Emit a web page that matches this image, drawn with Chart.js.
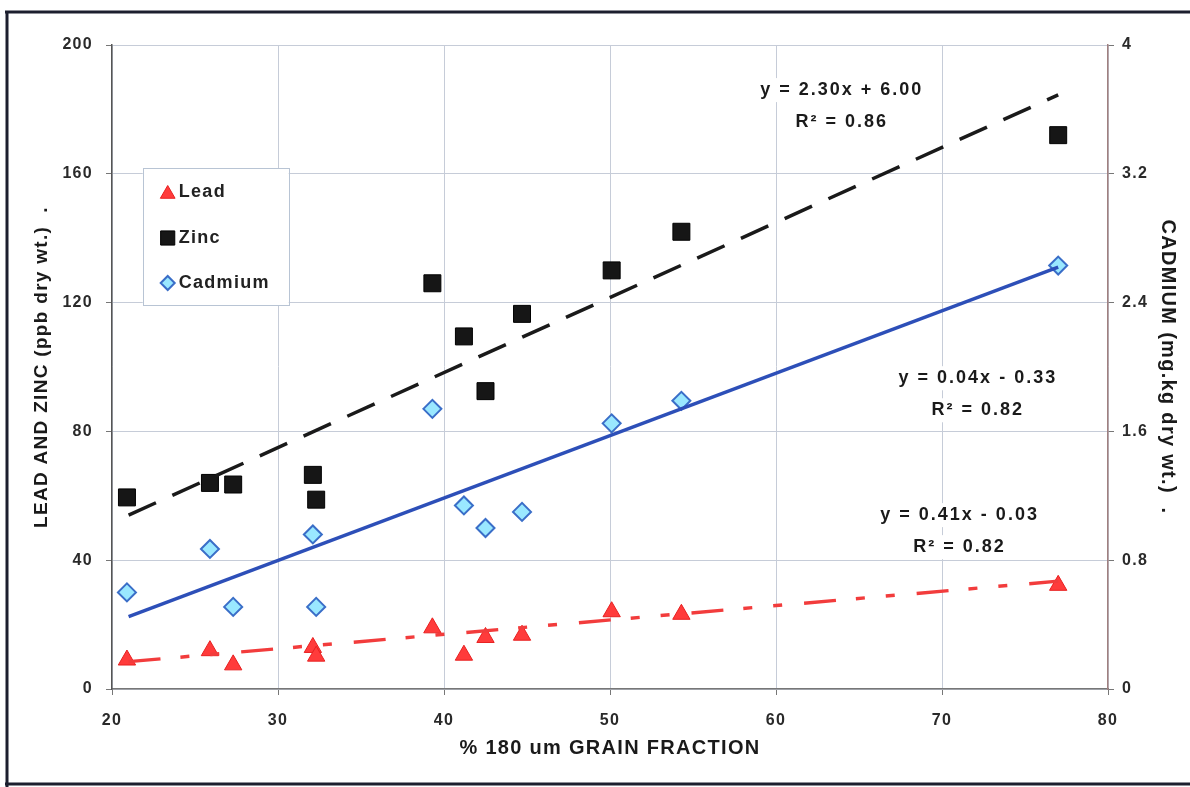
<!DOCTYPE html>
<html><head><meta charset="utf-8">
<script src="https://cdn.jsdelivr.net/npm/chart.js@4.4.1/dist/chart.umd.min.js"></script>
<style>html,body{margin:0;padding:0;background:#fff}#wrap{width:1190px;height:787px;position:relative}</style>
</head><body><div id="wrap"><canvas id="c" width="1190" height="787"></canvas></div>
<script>
const fraction = [20.9, 25.9, 27.3, 32.1, 32.3, 39.3, 41.2, 42.5, 44.7, 50.1, 54.3, 77.0];
const lead     = [9.0, 11.9, 7.5, 12.9, 10.2, 19.0, 10.5, 16.0, 16.7, 24.0, 23.2, 32.2];
const zinc     = [59.5, 64, 63.5, 66.5, 58.8, 126, 109.5, 92.5, 116.5, 130, 142, 172];
const cadmium  = [0.60, 0.87, 0.51, 0.96, 0.51, 1.74, 1.14, 1.00, 1.10, 1.65, 1.79, 2.63];
const trendX     = [21, 77];
const leadTrend  = [8.5, 33.5];
const zincTrend  = [54, 184.5];
const cdTrend    = [0.45, 2.62];
const seriesNames = ['Lead', 'Zinc', 'Cadmium'];
const xTicks = [20, 30, 40, 50, 60, 70, 80];
const leftTicks = [0, 40, 80, 120, 160, 200];
const rightTicks = ['0', '0.8', '1.6', '2.4', '3.2', '4'];
const equations = [
  {x: 63.9, y: 186, lines: ['y = 2.30x + 6.00', 'R\u00b2 = 0.86']},
  {x: 72.1, y: 96.5, lines: ['y = 0.04x - 0.33', 'R\u00b2 = 0.82']},
  {x: 71.0, y: 54, lines: ['y = 0.41x - 0.03', 'R\u00b2 = 0.82']}
];

const pts = (xs, ys) => xs.map((x, i) => ({x: x, y: ys[i]}));
const FONT = 'Arial, "Liberation Sans", sans-serif';
const tickFont = {family: FONT, size: 16, weight: 'bold'};

const framePlugin = {
  id: 'frame',
  beforeDraw(chart) {
    const ctx = chart.ctx;
    ctx.save();
    ctx.fillStyle = '#fff';
    ctx.fillRect(0, 0, chart.width, chart.height);
    ctx.strokeStyle = '#1c1f2e';
    ctx.lineWidth = 3;
    ctx.beginPath();
    ctx.moveTo(5, 12); ctx.lineTo(1190, 12);
    ctx.moveTo(7, 11); ctx.lineTo(7, 787);
    ctx.moveTo(5, 784); ctx.lineTo(1190, 784);
    ctx.stroke();
    ctx.restore();
    ctx.letterSpacing = '1.3px';
  },
  afterDatasetsDraw(chart) {
    const ctx = chart.ctx;
    const xs = chart.scales.x, ys = chart.scales.y;
    ctx.save();
    // equations
    ctx.letterSpacing = '2px';
    ctx.font = 'bold 18px ' + FONT;
    ctx.textAlign = 'center';
    ctx.textBaseline = 'middle';
    equations.forEach(e => {
      const px = xs.getPixelForValue(e.x), py = ys.getPixelForValue(e.y);
      e.lines.forEach((t, i) => {
        const w = ctx.measureText(t).width;
        const yy = py + i * 32;
        ctx.fillStyle = '#fff';
        ctx.fillRect(px - w / 2 - 4, yy - 12, w + 8, 24);
        ctx.fillStyle = '#1a1a1a';
        ctx.fillText(t, px + 1, yy);
      });
    });
    // legend
    const lx = xs.getPixelForValue(21.85), ly = ys.getPixelForValue(161.8);
    const lw = 146, lh = 137;
    ctx.fillStyle = '#fff';
    ctx.fillRect(lx, ly, lw, lh);
    ctx.strokeStyle = '#b8c4d4';
    ctx.lineWidth = 1;
    ctx.strokeRect(Math.round(lx) + 0.5, Math.round(ly) + 0.5, lw, lh);
    ctx.textAlign = 'left';
    ctx.letterSpacing = '1.3px';
    ctx.font = 'bold 18px ' + FONT;
    const rowY = [24, 70, 115];
    const legR = {triangle: 8.5, rect: 10, rectRot: 7};
    chart.data.datasets.slice(0, 3).forEach((ds, i) => {
      const cy = ly + rowY[i];
      ctx.fillStyle = ds.backgroundColor;
      ctx.strokeStyle = ds.borderColor;
      ctx.lineWidth = ds.borderWidth;
      Chart.helpers.drawPoint(ctx, {pointStyle: ds.pointStyle, radius: legR[ds.pointStyle], rotation: 0, borderWidth: ds.borderWidth},
        lx + 25, cy + (ds.pointStyle === 'triangle' ? 2 : 0));
      ctx.fillStyle = '#222';
      ctx.fillText(ds.label, lx + 36, cy);
    });
    ctx.restore();
  }
};

new Chart(document.getElementById('c'), {
  type: 'scatter',
  data: {
    datasets: [
      {label: seriesNames[0], data: pts(fraction, lead), pointStyle: 'triangle', pointRadius: 10,
       backgroundColor: '#ff3b3b', borderColor: '#e82020', borderWidth: 1, yAxisID: 'y', order: 1},
      {label: seriesNames[1], data: pts(fraction, zinc), pointStyle: 'rect', pointRadius: 12,
       backgroundColor: '#161616', borderColor: '#000', borderWidth: 1, yAxisID: 'y', order: 1},
      {label: seriesNames[2], data: pts(fraction, cadmium), pointStyle: 'rectRot', pointRadius: 9,
       backgroundColor: '#9ae8ff', borderColor: '#3a6ec8', borderWidth: 2, yAxisID: 'y1', order: 1},
      {label: 'Lead trend', data: pts(trendX, leadTrend), showLine: true, pointRadius: 0,
       borderColor: '#f23c3c', borderWidth: 3.5, borderDash: [32, 20, 9, 21, 9, 22], yAxisID: 'y', order: 0},
      {label: 'Zinc trend', data: pts(trendX, zincTrend), showLine: true, pointRadius: 0,
       borderColor: '#1a1a1a', borderWidth: 3.5, borderDash: [30, 18], yAxisID: 'y', order: 0},
      {label: 'Cadmium trend', data: pts(trendX, cdTrend), showLine: true, pointRadius: 0,
       borderColor: '#2d4fb8', borderWidth: 3.5, yAxisID: 'y1', order: 0}
    ]
  },
  options: {
    responsive: false,
    animation: false,
    layout: {padding: {top: 45, left: 0, right: 0, bottom: 0}},
    plugins: {legend: {display: false}, tooltip: {enabled: false}},
    scales: {
      x: {
        type: 'linear', min: 20, max: 80,
        afterBuildTicks: s => { s.ticks = xTicks.map(v => ({value: v})); },
        afterFit: s => { s.height = 98; },
        grid: {color: '#c6ccd8', lineWidth: 1, tickLength: 6, tickColor: '#777'},
        border: {color: '#777', width: 1.5},
        ticks: {font: tickFont, color: '#2a2a2a', padding: 16, maxRotation: 0},
        title: {display: true, text: '% 180 um GRAIN FRACTION', font: {family: FONT, size: 20, weight: 'bold'},
                color: '#1a1a1a', padding: {top: 0, bottom: 27}}
      },
      y: {
        type: 'linear', position: 'left', min: 0, max: 200,
        afterBuildTicks: s => { s.ticks = leftTicks.map(v => ({value: v})); },
        afterFit: s => { s.width = 112; },
        grid: {color: '#c6ccd8', lineWidth: 1, tickLength: 6, tickColor: '#777'},
        border: {color: '#555', width: 1.5},
        ticks: {font: tickFont, color: '#2a2a2a', padding: 13},
        title: {display: true, text: 'LEAD AND ZINC (ppb dry wt.)  .', font: {family: FONT, size: 19, weight: 'bold'},
                color: '#1a1a1a', padding: {top: 30, bottom: 0}}
      },
      y1: {
        type: 'linear', position: 'right', min: 0, max: 4,
        afterBuildTicks: s => { s.ticks = rightTicks.map(v => ({value: parseFloat(v)})); },
        afterFit: s => { s.width = 82; },
        grid: {drawOnChartArea: false, tickLength: 6, tickColor: '#777'},
        border: {color: '#a08080', width: 1.5},
        ticks: {font: tickFont, color: '#2a2a2a', padding: 8,
                callback: (v, i) => rightTicks[i]},
        title: {display: true, text: 'CADMIUM (mg.kg dry wt.)  .', font: {family: FONT, size: 20, weight: 'bold'},
                color: '#1a1a1a', padding: {top: 10, bottom: 0}}
      }
    }
  },
  plugins: [framePlugin]
});
</script></body></html>
